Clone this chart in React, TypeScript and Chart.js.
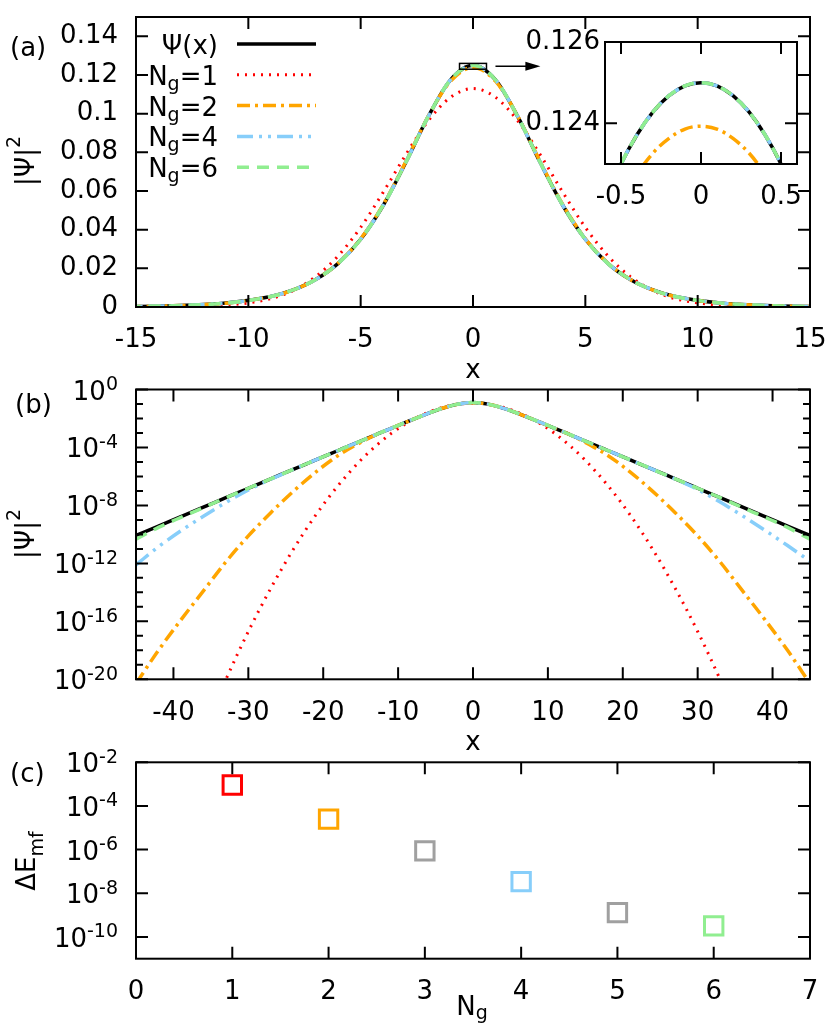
import React, { useEffect, useRef } from 'react';
import { Chart, registerables } from 'chart.js';

Chart.register(...registerables);

// ---------------- data ----------------
// panels (a) and (b): |Psi|^2 versus x
const xValues = [-45, -42, -39, -36, -33, -30, -27, -24, -21, -18, -15, -13, -11, -9, -8, -7, -6, -5, -4, -3, -2, -1, 0,
  1, 2, 3, 4, 5, 6, 7, 8, 9, 11, 13, 15, 18, 21, 24, 27, 30, 33, 36, 39, 42, 45];

const psiSq = [8.46e-11, 3.79e-10, 1.7e-9, 7.62e-9, 3.41e-8, 1.53e-7, 6.86e-7, 3.07e-6, 1.38e-5, 6.17e-5, 2.76e-4, 7.5e-4,
  2.03e-3, 5.43e-3, 8.83e-3, 0.01423, 0.02259, 0.03505, 0.0525, 0.07457, 0.09831, 0.1175, 0.125,
  0.1175, 0.09831, 0.07457, 0.0525, 0.03505, 0.02259, 0.01423, 8.83e-3, 5.43e-3, 2.03e-3, 7.5e-4, 2.76e-4,
  6.17e-5, 1.38e-5, 3.07e-6, 6.86e-7, 1.53e-7, 3.41e-8, 7.62e-9, 1.7e-9, 3.79e-10, 8.46e-11];

const ng1Sq = [3.9e-37, 1.5e-32, 2.6e-28, 2.3e-24, 9.6e-21, 2.0e-17, 1.9e-14, 9.2e-12, 2.14e-9, 2.39e-7, 1.3e-5, 1.24e-4,
  8.6e-4, 4.31e-3, 8.56e-3, 0.0157, 0.0265, 0.0412, 0.0593, 0.0786, 0.0962, 0.1085, 0.113,
  0.1085, 0.0962, 0.0786, 0.0593, 0.0412, 0.0265, 0.0157, 8.56e-3, 4.31e-3, 8.6e-4, 1.24e-4, 1.3e-5,
  2.39e-7, 2.14e-9, 9.2e-12, 1.9e-14, 2.0e-17, 9.6e-21, 2.3e-24, 2.6e-28, 1.5e-32, 3.9e-37];

const ng2Sq = [5.0e-21, 1.0e-18, 1.26e-16, 1.26e-14, 1.26e-12, 7.9e-11, 3.16e-9, 9.3e-8, 2.0e-6, 2.8e-5, 2.24e-4, 7.4e-4,
  2.0e-3, 5.4e-3, 8.8e-3, 0.0142, 0.0227, 0.0353, 0.0529, 0.075, 0.0985, 0.1168, 0.1239,
  0.1168, 0.0985, 0.075, 0.0529, 0.0353, 0.0227, 0.0142, 8.8e-3, 5.4e-3, 2.0e-3, 7.4e-4, 2.24e-4,
  2.8e-5, 2.0e-6, 9.3e-8, 3.16e-9, 7.9e-11, 1.26e-12, 1.26e-14, 1.26e-16, 1.0e-18, 5.0e-21];

const ng4Sq = [7.9e-13, 1.41e-11, 1.78e-10, 1.78e-9, 1.58e-8, 1.17e-7, 6.46e-7, 3.07e-6, 1.38e-5, 6.17e-5, 2.76e-4, 7.5e-4,
  2.03e-3, 5.43e-3, 8.83e-3, 0.01423, 0.02259, 0.03505, 0.0525, 0.07457, 0.09831, 0.1175, 0.125,
  0.1175, 0.09831, 0.07457, 0.0525, 0.03505, 0.02259, 0.01423, 8.83e-3, 5.43e-3, 2.03e-3, 7.5e-4, 2.76e-4,
  6.17e-5, 1.38e-5, 3.07e-6, 6.61e-7, 1.26e-7, 1.7e-8, 1.91e-9, 1.91e-10, 1.7e-11, 1.41e-12];

const ng6Sq = [4.68e-11, 3.02e-10, 1.51e-9, 7.08e-9, 3.41e-8, 1.53e-7, 6.86e-7, 3.07e-6, 1.38e-5, 6.17e-5, 2.76e-4, 7.5e-4,
  2.03e-3, 5.43e-3, 8.83e-3, 0.01423, 0.02259, 0.03505, 0.0525, 0.07457, 0.09831, 0.1175, 0.125,
  0.1175, 0.09831, 0.07457, 0.0525, 0.03505, 0.02259, 0.01423, 8.83e-3, 5.43e-3, 2.03e-3, 7.5e-4, 2.76e-4,
  6.17e-5, 1.38e-5, 3.07e-6, 6.86e-7, 1.53e-7, 3.41e-8, 7.08e-9, 1.51e-9, 3.02e-10, 4.68e-11];

// inset of panel (a): zoom on the maximum
const insetX = [-0.6, -0.5, -0.4, -0.3, -0.2, -0.1, 0, 0.1, 0.2, 0.3, 0.4, 0.5, 0.6];
const insetPsi = [0.1221, 0.123, 0.12372, 0.12428, 0.12468, 0.12492, 0.125, 0.12492, 0.12468, 0.12428, 0.12372, 0.123, 0.1221];
const insetNg1 = [0.1121, 0.1124, 0.1126, 0.1128, 0.1129, 0.113, 0.113, 0.113, 0.1129, 0.1128, 0.1126, 0.1124, 0.1121];
const insetNg2 = [0.12127, 0.12209, 0.12275, 0.12327, 0.12363, 0.12386, 0.12393, 0.12386, 0.12363, 0.12327, 0.12275, 0.12209, 0.12127];
const insetNg4 = [0.1221, 0.123, 0.12372, 0.12428, 0.12468, 0.12492, 0.125, 0.12492, 0.12468, 0.12428, 0.12372, 0.123, 0.1221];
const insetNg6 = [0.1221, 0.123, 0.12372, 0.12428, 0.12468, 0.12492, 0.125, 0.12492, 0.12468, 0.12428, 0.12372, 0.123, 0.1221];

// panel (c)
const ngCounts = [1, 2, 3, 4, 5, 6];
const deltaEmf = [9.1e-4, 2.5e-5, 8.7e-7, 3.4e-8, 1.3e-9, 3.2e-10];

// ticks
const xTicksA = [-15, -10, -5, 0, 5, 10, 15];
const yTicksA = [0, 0.02, 0.04, 0.06, 0.08, 0.1, 0.12, 0.14];
const xTicksInset = [-0.5, 0, 0.5];
const yTicksInset = [0.124, 0.126];
const xTicksB = [-40, -30, -20, -10, 0, 10, 20, 30, 40];
const yExpB = [0, -1, -2, -3, -4, -5, -6, -7, -8, -9, -10, -11, -12, -13, -14, -15, -16, -17, -18, -19, -20];
const yExpBLabels = [0, -4, -8, -12, -16, -20];
const xTicksC = [0, 1, 2, 3, 4, 5, 6, 7];
const yExpC = [-2, -4, -6, -8, -10];

const legendNg = [1, 2, 4, 6];

// ---------------- styles ----------------
const FAMILY = '"DejaVu Sans"';
const MAIN = 26;
const SCRIPT = 19;
const tickFont = { family: FAMILY, size: MAIN };

type Style = { color: string; width: number; dash: number[]; order: number };
const ST: Record<string, Style> = {
  psi: { color: '#000000', width: 3.5, dash: [], order: 4 },
  ng1: { color: '#ff0000', width: 3, dash: [2, 6], order: 3 },
  ng2: { color: '#ffa500', width: 3.5, dash: [13, 5, 3, 5], order: 2 },
  ng4: { color: '#87cefa', width: 3.5, dash: [16, 6, 3, 6, 3, 6], order: 1 },
  ng6: { color: '#90ee90', width: 3.5, dash: [12, 8], order: 0 },
};
const markerColors = ['#ff0000', '#ffa500', '#a0a0a0', '#87cefa', '#a0a0a0', '#90ee90'];

type Seg = { t: string; s: number; dy?: number };
function rich(ctx: CanvasRenderingContext2D, segs: Seg[], x: number, y: number, align: 'left' | 'center' | 'right') {
  ctx.save();
  ctx.fillStyle = '#000';
  ctx.textAlign = 'left';
  ctx.textBaseline = 'alphabetic';
  const widths = segs.map((g) => {
    ctx.font = `${g.s}px ${FAMILY}`;
    return ctx.measureText(g.t).width;
  });
  const total = widths.reduce((a, b) => a + b, 0);
  let cx = align === 'left' ? x : align === 'center' ? x - total / 2 : x - total;
  segs.forEach((g, i) => {
    ctx.font = `${g.s}px ${FAMILY}`;
    ctx.fillText(g.t, cx, y + (g.dy || 0));
    cx += widths[i];
  });
  ctx.restore();
}

function lineSet(xs: number[], ys: number[], st: Style) {
  return {
    data: xs.map((x, i) => ({ x, y: ys[i] })),
    borderColor: st.color,
    backgroundColor: st.color,
    borderWidth: st.width,
    borderDash: st.dash,
    borderCapStyle: 'butt',
    pointRadius: 0,
    fill: false,
    cubicInterpolationMode: 'monotone',
    capBezierPoints: false,
    order: st.order,
  };
}

function fixBox(kind: 'x' | 'y', size: number) {
  return (s: any) => {
    if (kind === 'x') s.height = size;
    else s.width = size;
    s.paddingLeft = 0;
    s.paddingRight = 0;
    s.paddingTop = 0;
    s.paddingBottom = 0;
  };
}

function linearAxis(kind: 'x' | 'y', min: number, max: number, ticks: number[], size: number, padding: number) {
  return {
    type: 'linear',
    min,
    max,
    bounds: 'data',
    grid: { display: false, drawTicks: false },
    border: { display: false },
    afterBuildTicks: (s: any) => {
      s.ticks = ticks.map((v) => ({ value: v }));
    },
    ticks: {
      display: true,
      font: tickFont,
      color: '#000',
      padding,
      autoSkip: false,
      maxRotation: 0,
      minRotation: 0,
      callback: (v: any) => String(+Number(v).toFixed(6)),
    },
    afterFit: fixBox(kind, size),
  };
}

function logAxis(min: number, max: number, exps: number[], size: number) {
  return {
    type: 'logarithmic',
    min,
    max,
    bounds: 'data',
    grid: { display: false, drawTicks: false },
    border: { display: false },
    afterBuildTicks: (s: any) => {
      s.ticks = exps.map((e) => ({ value: Math.pow(10, e) }));
    },
    ticks: { display: false },
    afterFit: fixBox('y', size),
  };
}

const common = {
  animation: false,
  responsive: false,
  maintainAspectRatio: false,
  devicePixelRatio: 1,
  events: [],
  plugins: { legend: { display: false }, tooltip: { enabled: false }, title: { display: false } },
};

type FrameOpts = {
  left: number;
  top: number;
  xt: number[];
  yt: number[];
  ytMinor?: number[];
  len: number;
  minorLen?: number;
  draw?: (ctx: CanvasRenderingContext2D, chart: any, L: number, T: number) => void;
};

function frame(o: FrameOpts) {
  return {
    id: 'frame',
    afterDraw(chart: any) {
      const { ctx, chartArea: a, scales } = chart;
      const xs = scales.x;
      const ys = scales.y;
      ctx.save();
      ctx.strokeStyle = '#000';
      ctx.lineWidth = 2;
      ctx.setLineDash([]);
      ctx.beginPath();
      for (const v of o.xt) {
        const p = xs.getPixelForValue(v);
        ctx.moveTo(p, a.bottom);
        ctx.lineTo(p, a.bottom - o.len);
        ctx.moveTo(p, a.top);
        ctx.lineTo(p, a.top + o.len);
      }
      for (const v of o.yt) {
        const p = ys.getPixelForValue(v);
        ctx.moveTo(a.left, p);
        ctx.lineTo(a.left + o.len, p);
        ctx.moveTo(a.right, p);
        ctx.lineTo(a.right - o.len, p);
      }
      if (o.ytMinor) {
        const ml = o.minorLen || 7;
        for (const v of o.ytMinor) {
          const p = ys.getPixelForValue(v);
          ctx.moveTo(a.left, p);
          ctx.lineTo(a.left + ml, p);
          ctx.moveTo(a.right, p);
          ctx.lineTo(a.right - ml, p);
        }
      }
      ctx.stroke();
      ctx.strokeRect(a.left, a.top, a.right - a.left, a.bottom - a.top);
      ctx.restore();
      if (o.draw) {
        ctx.save();
        ctx.translate(-o.left, -o.top);
        o.draw(ctx, chart, o.left, o.top);
        ctx.restore();
      }
    },
  };
}

function drawLogLabels(ctx: CanvasRenderingContext2D, ys: any, exps: number[], T: number) {
  for (const e of exps) {
    const y = ys.getPixelForValue(Math.pow(10, e)) + T;
    rich(ctx, [{ t: '10', s: MAIN }, { t: String(e), s: SCRIPT, dy: -9.5 }], 118, y + 10, 'right');
  }
}

function rotatedTitle(ctx: CanvasRenderingContext2D, segs: Seg[], x: number, y: number) {
  ctx.save();
  ctx.translate(x, y);
  ctx.rotate(-Math.PI / 2);
  rich(ctx, segs, 0, 0, 'center');
  ctx.restore();
}

function ngLabel(n: number): Seg[] {
  return [{ t: 'N', s: MAIN }, { t: 'g', s: SCRIPT, dy: 5 }, { t: '=' + n, s: MAIN }];
}

// ---------------- charts ----------------
function makeA(canvas: HTMLCanvasElement) {
  const legendRows: { segs: Seg[]; st: Style }[] = [
    { segs: [{ t: 'Ψ(x)', s: MAIN }], st: ST.psi },
    { segs: ngLabel(legendNg[0]), st: ST.ng1 },
    { segs: ngLabel(legendNg[1]), st: ST.ng2 },
    { segs: ngLabel(legendNg[2]), st: ST.ng4 },
    { segs: ngLabel(legendNg[3]), st: ST.ng6 },
  ];
  return new Chart(canvas, {
    type: 'line',
    data: {
      datasets: [
        lineSet(xValues, psiSq, ST.psi),
        lineSet(xValues, ng1Sq, ST.ng1),
        lineSet(xValues, ng2Sq, ST.ng2),
        lineSet(xValues, ng4Sq, ST.ng4),
        lineSet(xValues, ng6Sq, ST.ng6),
      ] as any,
    },
    options: {
      ...common,
      layout: { padding: { top: 17, right: 20, left: 0, bottom: 0 } },
      scales: {
        x: linearAxis('x', -15, 15, xTicksA, 78, 18),
        y: linearAxis('y', 0, 0.15, yTicksA, 136, 18),
      },
    } as any,
    plugins: [
      frame({
        left: 0,
        top: 0,
        xt: xTicksA,
        yt: yTicksA,
        len: 12,
        draw: (ctx, chart) => {
          const xs = chart.scales.x;
          const ys = chart.scales.y;
          rich(ctx, [{ t: '(a)', s: MAIN }], 10, 56, 'left');
          rotatedTitle(ctx, [{ t: '|Ψ|', s: MAIN }, { t: '2', s: SCRIPT, dy: -14 }], 34, 161);
          rich(ctx, [{ t: 'x', s: MAIN }], 473, 378, 'center');
          // legend
          legendRows.forEach((r, i) => {
            const y = 44 + i * 30.8;
            rich(ctx, r.segs, 218, y + 10, 'right');
            ctx.save();
            ctx.strokeStyle = r.st.color;
            ctx.lineWidth = r.st.width;
            ctx.setLineDash(r.st.dash);
            ctx.lineCap = 'butt';
            ctx.beginPath();
            ctx.moveTo(237, y);
            ctx.lineTo(316, y);
            ctx.stroke();
            ctx.restore();
          });
          // zoom box and arrow
          ctx.save();
          ctx.strokeStyle = '#000';
          ctx.lineWidth = 1.5;
          ctx.setLineDash([]);
          const rx1 = xs.getPixelForValue(-0.6);
          const rx2 = xs.getPixelForValue(0.6);
          const ry1 = ys.getPixelForValue(0.126);
          const ry2 = ys.getPixelForValue(0.123);
          ctx.strokeRect(rx1, ry1, rx2 - rx1, ry2 - ry1);
          const ax1 = xs.getPixelForValue(1.0);
          const ax2 = xs.getPixelForValue(3.0);
          const ay = ys.getPixelForValue(0.1245);
          ctx.beginPath();
          ctx.moveTo(ax1, ay);
          ctx.lineTo(ax2 - 12, ay);
          ctx.stroke();
          ctx.fillStyle = '#000';
          ctx.beginPath();
          ctx.moveTo(ax2, ay);
          ctx.lineTo(ax2 - 15, ay - 4.5);
          ctx.lineTo(ax2 - 15, ay + 4.5);
          ctx.closePath();
          ctx.fill();
          ctx.restore();
        },
      }),
    ],
  });
}

function makeInset(canvas: HTMLCanvasElement) {
  return new Chart(canvas, {
    type: 'line',
    data: {
      datasets: [
        lineSet(insetX, insetPsi, ST.psi),
        lineSet(insetX, insetNg1, ST.ng1),
        lineSet(insetX, insetNg2, ST.ng2),
        lineSet(insetX, insetNg4, ST.ng4),
        lineSet(insetX, insetNg6, ST.ng6),
      ] as any,
    },
    options: {
      ...common,
      layout: { padding: { top: 22, right: 23, left: 0, bottom: 0 } },
      scales: {
        x: linearAxis('x', -0.6, 0.6, xTicksInset, 56, 18),
        y: linearAxis('y', 0.123, 0.126, yTicksInset, 105, 5),
      },
    } as any,
    plugins: [frame({ left: 500, top: 20, xt: xTicksInset, yt: yTicksInset, len: 12 })],
  });
}

function makeB(canvas: HTMLCanvasElement) {
  const T = 350;
  return new Chart(canvas, {
    type: 'line',
    data: {
      datasets: [
        lineSet(xValues, psiSq, ST.psi),
        lineSet(xValues, ng1Sq, ST.ng1),
        lineSet(xValues, ng2Sq, ST.ng2),
        lineSet(xValues, ng4Sq, ST.ng4),
        lineSet(xValues, ng6Sq, ST.ng6),
      ] as any,
    },
    options: {
      ...common,
      layout: { padding: { top: 39.5, right: 20, left: 0, bottom: 0 } },
      scales: {
        x: linearAxis('x', -45, 45, xTicksB, 80.7, 18),
        y: logAxis(1e-20, 1, yExpB, 136),
      },
    } as any,
    plugins: [
      frame({
        left: 0,
        top: T,
        xt: xTicksB,
        yt: yExpBLabels.map((e) => Math.pow(10, e)),
        ytMinor: yExpB.filter((e) => e % 4 !== 0).map((e) => Math.pow(10, e)),
        len: 12,
        minorLen: 7,
        draw: (ctx, chart) => {
          drawLogLabels(ctx, chart.scales.y, yExpBLabels, T);
          rich(ctx, [{ t: '(b)', s: MAIN }], 15, 413, 'left');
          rotatedTitle(ctx, [{ t: '|Ψ|', s: MAIN }, { t: '2', s: SCRIPT, dy: -14 }], 34, 534);
          rich(ctx, [{ t: 'x', s: MAIN }], 473, 750, 'center');
        },
      }),
    ],
  });
}

function makeC(canvas: HTMLCanvasElement) {
  const T = 740;
  return new Chart(canvas, {
    type: 'scatter',
    data: {
      datasets: [
        {
          data: ngCounts.map((n, i) => ({ x: n, y: deltaEmf[i] })),
          pointStyle: 'rect',
          pointRadius: 13,
          pointBorderWidth: 3,
          pointBorderColor: markerColors,
          pointBackgroundColor: 'rgba(0,0,0,0)',
          showLine: false,
        },
      ] as any,
    },
    options: {
      ...common,
      layout: { padding: { top: 22.3, right: 20, left: 0, bottom: 0 } },
      scales: {
        x: linearAxis('x', 0, 7, xTicksC, 66.3, 18),
        y: logAxis(1e-11, 1e-2, yExpC, 136),
      },
    } as any,
    plugins: [
      frame({
        left: 0,
        top: T,
        xt: xTicksC,
        yt: yExpC.map((e) => Math.pow(10, e)),
        len: 12,
        draw: (ctx, chart) => {
          drawLogLabels(ctx, chart.scales.y, yExpC, T);
          rich(ctx, [{ t: '(c)', s: MAIN }], 10, 782, 'left');
          rotatedTitle(ctx, [{ t: 'ΔE', s: MAIN }, { t: 'mf', s: SCRIPT, dy: 8 }], 34.5, 861);
          rich(ctx, [{ t: 'N', s: MAIN }, { t: 'g', s: SCRIPT, dy: 4 }], 472, 1015, 'center');
        },
      }),
    ],
  });
}

export default function App() {
  const refA = useRef<HTMLCanvasElement>(null);
  const refI = useRef<HTMLCanvasElement>(null);
  const refB = useRef<HTMLCanvasElement>(null);
  const refC = useRef<HTMLCanvasElement>(null);

  useEffect(() => {
    const charts = [
      makeA(refA.current as HTMLCanvasElement),
      makeB(refB.current as HTMLCanvasElement),
      makeC(refC.current as HTMLCanvasElement),
      makeInset(refI.current as HTMLCanvasElement),
    ];
    return () => charts.forEach((c) => c.destroy());
  }, []);

  const cv = (left: number, top: number, w: number, h: number): React.CSSProperties => ({
    position: 'absolute',
    left,
    top,
    width: w,
    height: h,
    display: 'block',
  });

  return (
    <div style={{ position: 'absolute', left: 0, top: 0, width: 830, height: 1025, overflow: 'hidden', background: '#fff' }}>
      <canvas ref={refA} width={830} height={385} style={cv(0, 0, 830, 385)} />
      <canvas ref={refB} width={830} height={410} style={cv(0, 350, 830, 410)} />
      <canvas ref={refC} width={830} height={285} style={cv(0, 740, 830, 285)} />
      <canvas ref={refI} width={320} height={200} style={cv(500, 20, 320, 200)} />
    </div>
  );
}
